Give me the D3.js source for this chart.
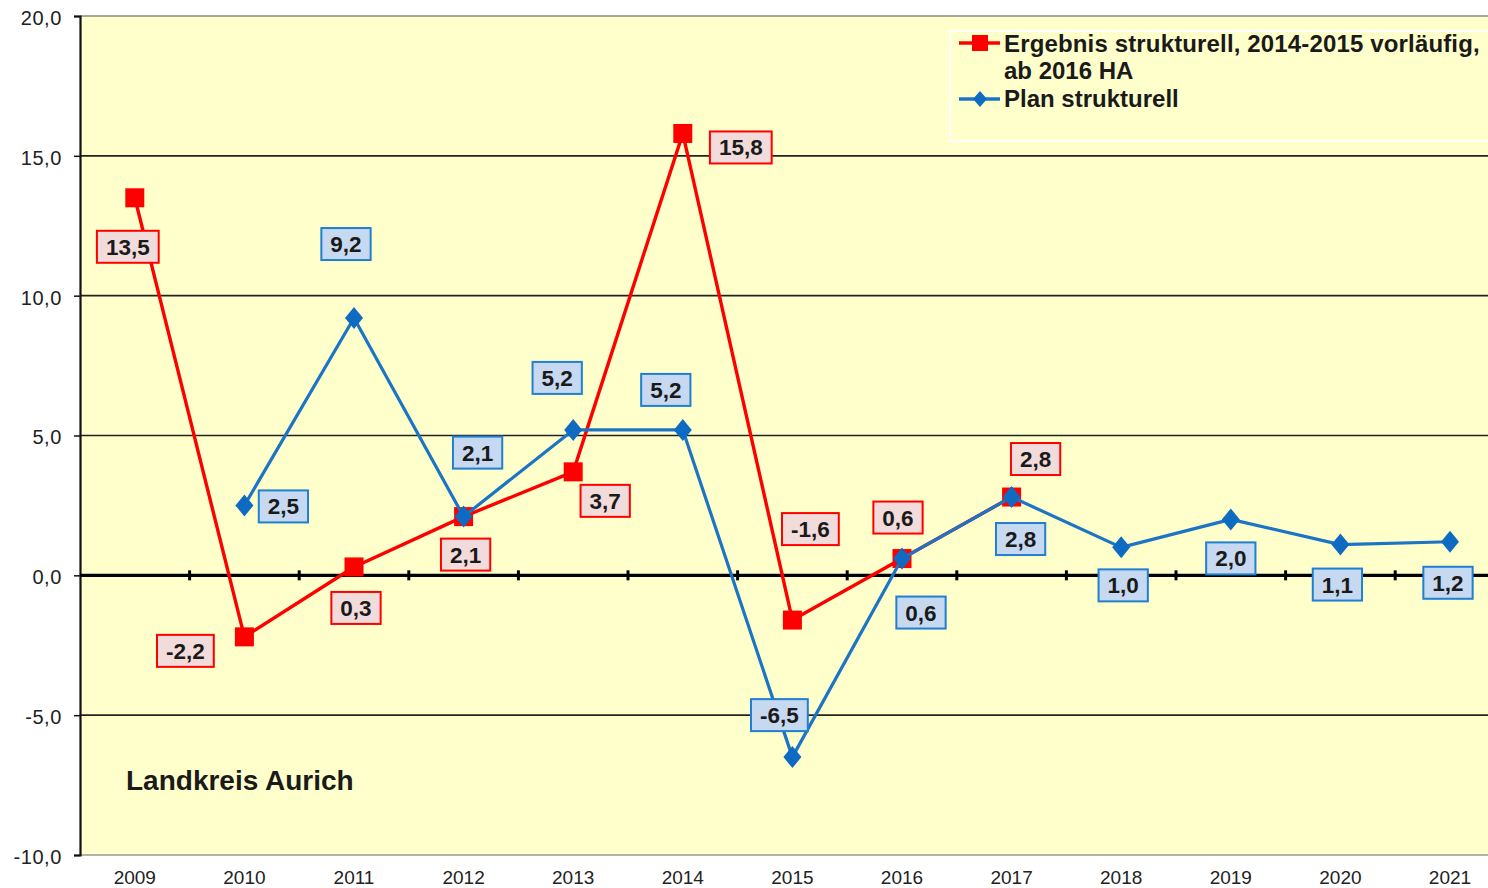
<!DOCTYPE html>
<html><head><meta charset="utf-8">
<script src="https://cdn.jsdelivr.net/npm/d3@7"></script>
<style>body{margin:0;background:#fff;}svg{display:block;}</style>
</head><body>
<svg id="c" width="1488" height="888"></svg>
<script>
const years = ["2009","2010","2011","2012","2013","2014","2015","2016","2017","2018","2019","2020","2021"];
const ergebnis = [13.5,-2.2,0.3,2.1,3.7,15.8,-1.6,0.6,2.8,null,null,null,null];
const plan = [null,2.5,9.2,2.1,5.2,5.2,-6.5,0.6,2.8,1.0,2.0,1.1,1.2];
const yTicks = [20,15,10,5,0,-5,-10];
const seriesNames = ["Ergebnis strukturell, 2014-2015 vorläufig,","ab 2016 HA","Plan strukturell"];
const chartTitle = "Landkreis Aurich";
// label placement offsets (dx, dy) relative to point
const ergebnisLabelOff = [[-7,49],[-59,14],[2,41],[2,38],[32,29],[58,14],[18,-91],[-4,-41],[24,-38]];
const planLabelOff = [null,[39,1],[-8,-74],[14,-64],[-16,-52],[-17,-40],[-13,-42],[19,54],[9,42],[2,38],[0,39],[-3,40],[-2,41]];

const svg = d3.select("#c");
const L = 80, T = 16, B = 855, step = 109.6;
const R = L + step * years.length;
const x = d3.scalePoint().domain(years).range([L, R]).padding(0.5);
const y = d3.scaleLinear().domain([-10, 20]).range([B, T]);
const fmt = v => d3.format(".1f")(v).replace(".", ",").replace("\u2212", "-");

// plot background
svg.append("rect").attr("x", L).attr("y", T).attr("width", R - L).attr("height", B - T).attr("fill", "#ffffcc");
svg.append("line").attr("x1", L).attr("x2", R).attr("y1", T).attr("y2", T).attr("stroke", "#8a8a80").attr("stroke-width", 1.5);
svg.append("line").attr("x1", L).attr("x2", R).attr("y1", B).attr("y2", B).attr("stroke", "#9a9a90").attr("stroke-width", 1.5);

// gridlines
svg.append("g").selectAll("line").data(yTicks.filter(d => d !== 20 && d !== -10 && d !== 0)).join("line")
  .attr("x1", L).attr("x2", R).attr("y1", d => y(d)).attr("y2", d => y(d))
  .attr("stroke", "#222").attr("stroke-width", 1.6);

// y axis
const yAxis = d3.axisLeft(y).tickValues(yTicks).tickSize(6).tickFormat(fmt);
const ga = svg.append("g").attr("transform", `translate(${L},0)`).call(yAxis);
ga.select(".domain").attr("stroke", "#111").attr("stroke-width", 2.2);
ga.selectAll(".tick line").attr("stroke", "#111").attr("stroke-width", 1.5);
ga.selectAll(".tick text").attr("x", -18).attr("dy", "0.42em")
  .attr("font-family", "Liberation Sans, Arial, sans-serif").attr("font-size", 20).attr("fill", "#222")
  .attr("letter-spacing", "0.6px");

// zero line with category ticks
svg.append("line").attr("x1", L).attr("x2", R).attr("y1", y(0)).attr("y2", y(0)).attr("stroke", "#000").attr("stroke-width", 3.2);
const bounds = years.slice(1).map(d => x(d) - step / 2);
svg.append("g").selectAll("line").data(bounds).join("line")
  .attr("x1", d => d).attr("x2", d => d).attr("y1", y(0) - 5).attr("y2", y(0) + 5)
  .attr("stroke", "#000").attr("stroke-width", 3);

// x labels
svg.append("g").selectAll("text").data(years).join("text")
  .attr("x", d => x(d)).attr("y", 884).attr("text-anchor", "middle")
  .attr("font-family", "Liberation Sans, Arial, sans-serif").attr("font-size", 19).attr("fill", "#222")
  .text(d => d);

// title
svg.append("text").attr("x", 126).attr("y", 790)
  .attr("font-family", "Liberation Sans, Arial, sans-serif").attr("font-weight", "bold").attr("font-size", 28).attr("fill", "#1a1a1a")
  .text(chartTitle);

const RED = "#ff0000", BLUE = "#1c75c4", BLUEM = "#0f6bc2";
const line = d3.line().defined(d => d[1] !== null).x(d => x(d[0])).y(d => y(d[1]));
const redPts = years.map((yr, i) => [yr, ergebnis[i]]);
const bluePts = years.map((yr, i) => [yr, plan[i]]);

svg.append("path").attr("d", line(redPts)).attr("fill", "none").attr("stroke", RED).attr("stroke-width", 3.4).attr("stroke-linejoin", "round");
svg.append("g").selectAll("rect").data(redPts.filter(d => d[1] !== null)).join("rect")
  .attr("x", d => x(d[0]) - 9.5).attr("y", d => y(d[1]) - 9.5).attr("width", 19).attr("height", 19).attr("fill", RED);

svg.append("path").attr("d", line(bluePts)).attr("fill", "none").attr("stroke", BLUE).attr("stroke-width", 3.2).attr("stroke-linejoin", "round");
svg.append("g").selectAll("path").data(bluePts.filter(d => d[1] !== null)).join("path")
  .attr("d", "M0,-11L9,0L0,11L-9,0Z").attr("transform", d => `translate(${x(d[0])},${y(d[1])})`).attr("fill", BLUEM);

// data labels
function labels(pts, offs, stroke, fill) {
  const g = svg.append("g");
  pts.forEach((d, i) => {
    if (d[1] === null || !offs[i]) return;
    const cx = x(d[0]) + offs[i][0], cy = y(d[1]) + offs[i][1];
    const lg = g.append("g");
    const r = lg.append("rect");
    const t = lg.append("text").attr("x", cx).attr("y", cy + 8).attr("text-anchor", "middle")
      .attr("font-family", "Liberation Sans, Arial, sans-serif").attr("font-weight", "bold").attr("font-size", 22.5).attr("fill", "#1a1a1a")
      .text(fmt(d[1]));
    const w = t.node().getComputedTextLength() + 18;
    r.attr("x", cx - w / 2).attr("y", cy - 16).attr("width", w).attr("height", 32)
      .attr("fill", fill).attr("stroke", stroke).attr("stroke-width", 2);
  });
}
labels(redPts, ergebnisLabelOff, RED, "#f2dcdb");
labels(bluePts, planLabelOff, "#1f7fd0", "#c6d9f1");

// legend
svg.append("rect").attr("x", 950).attr("y", 31).attr("width", 600).attr("height", 110)
  .attr("fill", "#ffffcc").attr("stroke", "#ffffff").attr("stroke-width", 2);
const leg = svg.append("g").attr("font-family", "Liberation Sans, Arial, sans-serif").attr("font-weight", "bold").attr("font-size", 24).attr("fill", "#1a1a1a");
leg.append("line").attr("x1", 959).attr("x2", 1000).attr("y1", 43).attr("y2", 43).attr("stroke", RED).attr("stroke-width", 3.4);
leg.append("rect").attr("x", 972).attr("y", 35).attr("width", 16).attr("height", 16).attr("fill", RED);
leg.append("text").attr("x", 1004).attr("y", 52).attr("letter-spacing", "0.15px").text(seriesNames[0]);
leg.append("text").attr("x", 1004).attr("y", 79).text(seriesNames[1]);
leg.append("line").attr("x1", 959).attr("x2", 1000).attr("y1", 99).attr("y2", 99).attr("stroke", BLUE).attr("stroke-width", 3.4);
leg.append("path").attr("d", "M0,-8L7,0L0,8L-7,0Z").attr("transform", "translate(980,99)").attr("fill", BLUEM);
leg.append("text").attr("x", 1004).attr("y", 107).text(seriesNames[2]);
</script>
</body></html>
